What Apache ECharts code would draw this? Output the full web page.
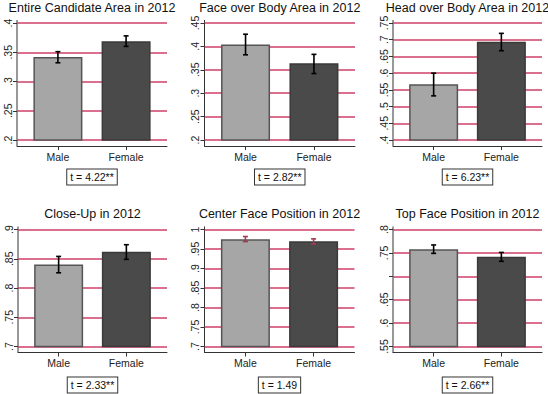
<!DOCTYPE html>
<html>
<head>
<meta charset="utf-8">
<script src="https://cdn.jsdelivr.net/npm/echarts@6/dist/echarts.min.js"></script>
<style>
  html, body { margin: 0; padding: 0; background: #fff; }
  #chart { width: 548px; height: 394px; }
</style>
</head>
<body>
<div id="chart"></div>
<script>
// data
const categories = ['Male', 'Female'];
const titles = [
    'Entire Candidate Area in 2012',
    'Face over Body Area in 2012',
    'Head over Body Area in 2012',
    'Close-Up in 2012',
    'Center Face Position in 2012',
    'Top Face Position in 2012'
];
const tStats = ['t = 4.22**', 't = 2.82**', 't = 6.23**', 't = 2.33**', 't = 1.49', 't = 2.66**'];
const maleMean = [0.342, 0.404, 0.567, 0.840, 0.975, 0.758];
const femaleMean = [0.369, 0.364, 0.694, 0.862, 0.970, 0.742];
const maleCI = [[0.332, 0.351], [0.382, 0.426], [0.532, 0.600], [0.826, 0.854], [0.969, 0.982], [0.749, 0.767]];
const femaleCI = [[0.360, 0.378], [0.342, 0.383], [0.667, 0.719], [0.849, 0.874], [0.963, 0.976], [0.732, 0.751]];
const yMin = [0.2, 0.2, 0.4, 0.7, 0.7, 0.55];
const yMax = [0.4, 0.45, 0.75, 0.9, 1, 0.8];
const yStep = 0.05;
const yTickLabels = [
    ['.2', '.25', '.3', '.35', '.4'],
    ['.2', '.25', '.3', '.35', '.4', '.45'],
    ['.4', '.45', '.5', '.55', '.6', '.65', '.7', '.75'],
    ['.7', '.75', '.8', '.85', '.9'],
    ['.7', '.75', '.8', '.85', '.9', '.95', '1'],
    ['.55', '.6', '.65', '', '.75', '.8']
];

// layout
const gridLeft = [17, 204.5, 393, 18, 204.5, 393];
const gridWidth = [150, 150.5, 149, 149, 150, 149];
const gridTop = [23, 23, 23, 229.5, 229.5, 229.5];
const plotH = 117;
const titleY = [7.5, 7.5, 7.5, 214, 214, 214];
const boxY = [177, 177, 177, 385, 385, 385];

const FONT = '"Liberation Sans", Arial, Helvetica, sans-serif';
const GRID_COLOR = '#cf3f68';
const AXIS_COLOR = '#333';

const chart = echarts.init(document.getElementById('chart'), null, { renderer: 'svg' });

const grids = [], xAxes = [], yAxes = [], series = [], graphics = [];

titles.forEach((title, i) => {
    grids.push({ left: gridLeft[i], top: gridTop[i], width: gridWidth[i], height: plotH });

    xAxes.push({
        gridIndex: i,
        type: 'value',
        min: 0.4,
        max: 2.6,
        offset: 6,
        axisLine: { show: true, lineStyle: { color: AXIS_COLOR, width: 1 } },
        axisTick: { show: true, customValues: [1, 2], length: 4, lineStyle: { color: AXIS_COLOR } },
        axisLabel: {
            customValues: [1, 2],
            formatter: v => categories[Math.round(v) - 1] || '',
            fontFamily: FONT,
            fontSize: 10.5,
            color: '#222',
            margin: 5
        },
        splitLine: { show: false }
    });

    yAxes.push({
        gridIndex: i,
        type: 'value',
        min: yMin[i],
        max: yMax[i],
        interval: yStep,
        axisLine: { show: false },
        axisTick: { show: true, length: 4, lineStyle: { color: AXIS_COLOR } },
        axisLabel: {
            rotate: 90,
            align: 'center',
            verticalAlign: 'bottom',
            margin: 4,
            fontFamily: FONT,
            fontSize: 10.5,
            color: '#222',
            formatter: v => yTickLabels[i][Math.round((v - yMin[i]) / yStep)] || ''
        },
        splitLine: { show: true, lineStyle: { color: GRID_COLOR, width: 1.5 } }
    });

    series.push({
        type: 'bar',
        xAxisIndex: i,
        yAxisIndex: i,
        barWidth: 49,
        data: [
            { value: [1, maleMean[i]], itemStyle: { color: '#a6a6a6', borderColor: '#555', borderWidth: 1.5 } },
            { value: [2, femaleMean[i]], itemStyle: { color: '#4a4a4a', borderColor: '#3a3a3a', borderWidth: 1.5 } }
        ],
        z: 2
    });

    const errColor = i === 4 ? '#a8384f' : '#000';
    series.push({
        type: 'custom',
        xAxisIndex: i,
        yAxisIndex: i,
        z: 5,
        encode: { x: 0, y: [1, 2] },
        data: [[1, maleCI[i][0], maleCI[i][1]], [2, femaleCI[i][0], femaleCI[i][1]]],
        renderItem: (params, api) => {
            const lo = api.coord([api.value(0), api.value(1)]);
            const hi = api.coord([api.value(0), api.value(2)]);
            const cap = 2.5;
            const style = { stroke: errColor, lineWidth: 1.6 };
            return {
                type: 'group',
                children: [
                    { type: 'line', shape: { x1: lo[0], y1: lo[1], x2: hi[0], y2: hi[1] }, style },
                    { type: 'line', shape: { x1: lo[0] - cap, y1: lo[1], x2: lo[0] + cap, y2: lo[1] }, style },
                    { type: 'line', shape: { x1: hi[0] - cap, y1: hi[1], x2: hi[0] + cap, y2: hi[1] }, style }
                ]
            };
        }
    });

    const cx = gridLeft[i] + gridWidth[i] / 2;
    // panel title
    graphics.push({
        type: 'text',
        x: cx,
        y: titleY[i],
        style: {
            text: title,
            align: 'center',
            verticalAlign: 'middle',
            font: '12.5px ' + FONT,
            fill: '#111'
        }
    });
    // t-statistic box
    graphics.push({
        type: 'text',
        x: cx,
        y: boxY[i],
        style: {
            text: tStats[i],
            align: 'center',
            verticalAlign: 'middle',
            font: '10.5px ' + FONT,
            fill: '#111',
            backgroundColor: '#fff',
            borderColor: '#333',
            borderWidth: 1,
            padding: [2, 3]
        }
    });
    // y axis line (runs a little past the plot like Stata)
    graphics.push({
        type: 'line',
        shape: { x1: gridLeft[i], y1: gridTop[i] - 3, x2: gridLeft[i], y2: gridTop[i] + plotH + 6 },
        style: { stroke: AXIS_COLOR, lineWidth: 1 }
    });
});

chart.setOption({
    backgroundColor: '#fff',
    animation: false,
    grid: grids,
    xAxis: xAxes,
    yAxis: yAxes,
    series: series,
    graphic: graphics
});
</script>
</body>
</html>
